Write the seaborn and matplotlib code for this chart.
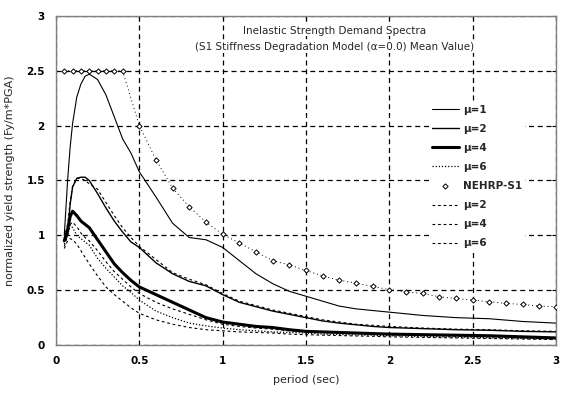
import matplotlib
matplotlib.use("Agg")
import matplotlib.pyplot as plt
import seaborn as sns
import pandas as pd

period = [0.05, 0.07, 0.085, 0.1, 0.125, 0.15, 0.175, 0.2, 0.25, 0.3, 0.35, 0.4,
          0.45, 0.5, 0.6, 0.7, 0.8, 0.9, 1.0, 1.1, 1.2, 1.3, 1.4, 1.5, 1.6, 1.7,
          1.8, 1.9, 2.0, 2.2, 2.4, 2.6, 2.8, 3.0]

mu1 = [1.0, 1.5, 1.8, 2.02, 2.26, 2.38, 2.45, 2.47, 2.42, 2.28, 2.08, 1.88,
       1.75, 1.58, 1.35, 1.11, 0.98, 0.96, 0.89, 0.77, 0.65, 0.56, 0.49, 0.445,
       0.40, 0.355, 0.33, 0.315, 0.30, 0.27, 0.25, 0.24, 0.215, 0.20]
mu2 = [0.95, 1.0, 1.28, 1.44, 1.52, 1.53, 1.53, 1.50, 1.38, 1.25, 1.13, 1.03,
       0.94, 0.89, 0.75, 0.65, 0.58, 0.54, 0.46, 0.39, 0.35, 0.31, 0.28, 0.25,
       0.22, 0.20, 0.185, 0.17, 0.16, 0.15, 0.14, 0.135, 0.125, 0.12]
mu4 = [0.95, 1.05, 1.17, 1.22, 1.18, 1.13, 1.10, 1.07, 0.96, 0.85, 0.74, 0.66,
       0.59, 0.53, 0.46, 0.39, 0.32, 0.25, 0.21, 0.19, 0.17, 0.16, 0.14, 0.125,
       0.12, 0.115, 0.11, 0.105, 0.10, 0.095, 0.09, 0.085, 0.075, 0.065]
mu6 = [0.92, 1.0, 1.09, 1.07, 1.0, 0.97, 0.94, 0.91, 0.79, 0.70, 0.62, 0.54,
       0.48, 0.41, 0.31, 0.25, 0.20, 0.175, 0.155, 0.14, 0.13, 0.12, 0.115, 0.11,
       0.10, 0.097, 0.093, 0.09, 0.085, 0.078, 0.072, 0.066, 0.06, 0.055]
mu2d = [0.98, 1.1, 1.3, 1.45, 1.52, 1.52, 1.50, 1.47, 1.42, 1.30, 1.18, 1.07,
        0.98, 0.90, 0.78, 0.66, 0.60, 0.55, 0.47, 0.40, 0.36, 0.32, 0.29, 0.26,
        0.23, 0.21, 0.19, 0.18, 0.17, 0.155, 0.145, 0.14, 0.13, 0.125]
mu4d = [0.90, 1.0, 1.10, 1.12, 1.08, 1.02, 0.98, 0.95, 0.86, 0.76, 0.67, 0.60,
        0.53, 0.47, 0.39, 0.33, 0.28, 0.23, 0.19, 0.17, 0.155, 0.145, 0.13, 0.12,
        0.115, 0.11, 0.105, 0.10, 0.095, 0.09, 0.08, 0.075, 0.068, 0.06]
mu6d = [0.88, 0.95, 0.97, 0.96, 0.92, 0.86, 0.80, 0.74, 0.63, 0.53, 0.46, 0.40,
        0.34, 0.29, 0.23, 0.19, 0.16, 0.14, 0.13, 0.12, 0.115, 0.11, 0.10, 0.095,
        0.09, 0.087, 0.083, 0.08, 0.075, 0.07, 0.065, 0.06, 0.055, 0.05]

nehrp_period = [0.05, 0.1, 0.15, 0.2, 0.25, 0.3, 0.35, 0.4, 0.5, 0.6, 0.7, 0.8,
                0.9, 1.0, 1.1, 1.2, 1.3, 1.4, 1.5, 1.6, 1.7, 1.8, 1.9, 2.0, 2.1,
                2.2, 2.3, 2.4, 2.5, 2.6, 2.7, 2.8, 2.9, 3.0]
nehrp = [2.5, 2.5, 2.5, 2.5, 2.5, 2.5, 2.5, 2.5, 2.0, 1.69, 1.43, 1.26,
         1.12, 1.01, 0.93, 0.85, 0.77, 0.73, 0.68, 0.63, 0.59, 0.565, 0.535, 0.505, 0.485,
         0.47, 0.44, 0.425, 0.41, 0.395, 0.38, 0.37, 0.355, 0.35]

labels = ["μ=1", "μ=2", "μ=4", "μ=6", "NEHRP-S1", "μ=2", "μ=4", "μ=6"]
x_ticks = [0, 0.5, 1, 1.5, 2, 2.5, 3]
x_tick_labels = ["0", "0.5", "1", "1.5", "2", "2.5", "3"]
y_ticks = [0, 0.5, 1, 1.5, 2, 2.5, 3]
y_tick_labels = ["0", "0.5", "1", "1.5", "2", "2.5", "3"]

sns.set_style("white")
plt.rcParams["font.family"] = ["DejaVu Sans"]

fig = plt.figure(figsize=(5.65, 3.98), dpi=100)
ax = fig.add_axes([0.099, 0.133, 0.885, 0.827])

df = pd.DataFrame({"period": period, "mu1": mu1, "mu2": mu2, "mu4": mu4, "mu6": mu6,
                   "mu2d": mu2d, "mu4d": mu4d, "mu6d": mu6d})
dn = pd.DataFrame({"period": nehrp_period, "nehrp": nehrp})

sns.lineplot(data=df, x="period", y="mu1", ax=ax, color="black", lw=0.8, label=labels[0])
sns.lineplot(data=df, x="period", y="mu2", ax=ax, color="black", lw=1.0, label=labels[1])
sns.lineplot(data=df, x="period", y="mu4", ax=ax, color="black", lw=2.2, label=labels[2])
sns.lineplot(data=df, x="period", y="mu6", ax=ax, color="black", lw=0.9,
             linestyle=(0, (1, 1.5)), label=labels[3])
sns.scatterplot(data=dn, x="period", y="nehrp", ax=ax, marker="D", s=7,
                facecolor="white", edgecolor="black", linewidth=0.7, label=labels[4], zorder=4)
sns.lineplot(data=df, x="period", y="mu2d", ax=ax, color="black", lw=0.8,
             linestyle=(0, (2.5, 2.5)), label=labels[5])
sns.lineplot(data=df, x="period", y="mu4d", ax=ax, color="black", lw=0.8,
             linestyle=(0, (2.5, 2.5)), label=labels[6])
sns.lineplot(data=df, x="period", y="mu6d", ax=ax, color="black", lw=0.8,
             linestyle=(0, (2.5, 2.5)), label=labels[7])
sns.lineplot(data=dn, x="period", y="nehrp", ax=ax, color="black", lw=0.7,
             linestyle=(0, (1, 3)), legend=False)

ax.set_xlim(0, 3)
ax.set_ylim(0, 3)
ax.set_xticks(x_ticks)
ax.set_xticklabels(x_tick_labels, fontsize=7.5, fontweight="bold")
ax.set_yticks(y_ticks)
ax.set_yticklabels(y_tick_labels, fontsize=7.5, fontweight="bold")
ax.tick_params(axis="both", direction="in", length=3, width=0.8, pad=8,
               top=True, right=True, colors="black")
ax.grid(True, color="black", linestyle=(0, (4, 3)), linewidth=0.9)
for s in ax.spines.values():
    s.set_color("#808080")
    s.set_linewidth(1.0)

ax.set_xlabel("period (sec)", fontsize=8, labelpad=6)
ax.set_ylabel("normalized yield strength (Fy/m*PGA)", fontsize=8, labelpad=8)

ax.text(0.558, 0.955, "Inelastic Strength Demand Spectra", transform=ax.transAxes,
        ha="center", va="center", fontsize=7.5,
        bbox=dict(facecolor="white", edgecolor="none", pad=0.5))
ax.text(0.558, 0.906, "(S1 Stiffness Degradation Model (α=0.0) Mean Value)",
        transform=ax.transAxes, ha="center", va="center", fontsize=7.5,
        bbox=dict(facecolor="white", edgecolor="none", pad=0.5))

leg = ax.legend(loc="upper left", bbox_to_anchor=(0.735, 0.755), frameon=True,
                fontsize=7.5, handlelength=2.6, handletextpad=0.4, labelspacing=0.87,
                borderpad=0.3, fancybox=False)
leg.get_frame().set_facecolor("white")
leg.get_frame().set_edgecolor("none")
leg.get_frame().set_alpha(1.0)
for t in leg.get_texts():
    t.set_fontweight("bold")

fig.savefig("out.png", dpi=100)
